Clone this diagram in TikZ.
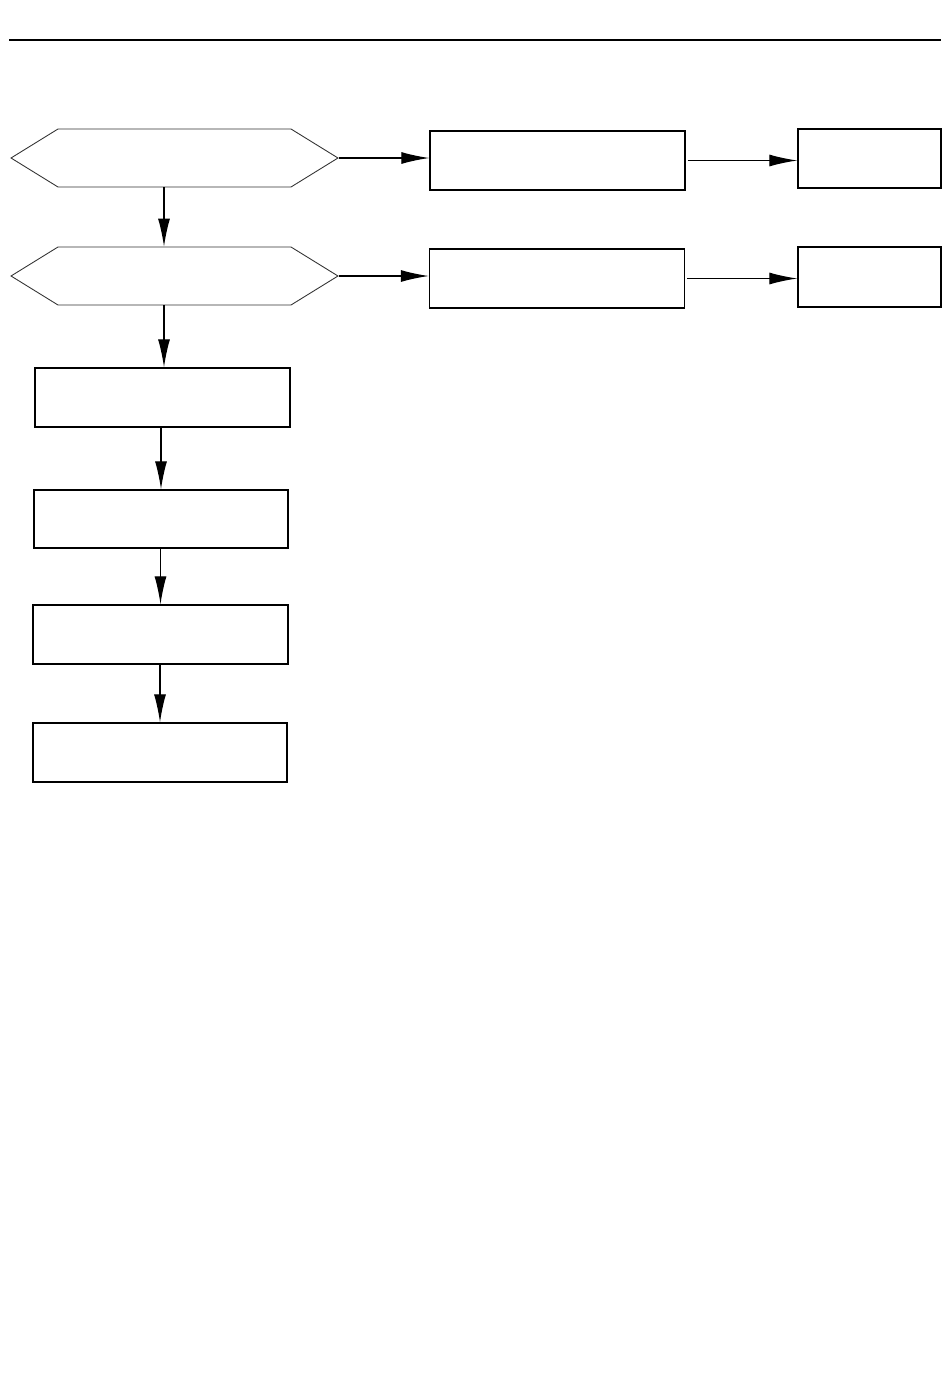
\documentclass[tikz,border=0pt]{standalone}
\usepackage{tikz}
\usetikzlibrary{positioning,arrows.meta,shapes.symbols}

\begin{document}
\begin{tikzpicture}[x=0.02cm,y=-0.02cm,
    action/.style={rectangle,draw,line width=0.8pt,minimum height=11.8mm,
		inner sep=0pt},
    decide/.style={signal,signal to=west and east,signal pointer angle=63.4,
		draw=black!80,line width=0.5pt,minimum width=65.4mm,minimum height=11.6mm,
		inner sep=0pt},
% Connector style
    flow/.style={line width=0.7pt,-{Latex[length=5.6mm,width=2.4mm]}}
    ]
   \useasboundingbox (0,0) rectangle (950,1379);
   \draw [line width=1.1pt] (9,40) -- (941,40);
%%% Draw check flow diagram
   \begin{scope}
      \node [decide] (chk1) at (174.5,158) {};
      \node [decide] (chk2) at (174.5,276) {};

      \node [action, minimum width=51mm] (res1) at (557.5,160.5) {};
      \node [action, minimum width=51mm] (res2) at (557,278.5) {};
      \node [action, minimum width=28.6mm] (fin1) at (869.5,158.5) {};
      \node [action, minimum width=28.6mm, minimum height=12mm] (fin2) at (869.5,277) {};

      \node [action, minimum width=51mm] (stp1) at (162.5,397.5) {};
      \node [action, minimum width=50.8mm, minimum height=11.6mm] (stp2) at (161,519) {};
      \node [action, minimum width=51mm] (stp3) at (160.5,634.5) {};
      \node [action, minimum width=50.8mm] (stp4) at (160,752.5) {};

      \draw [flow] (chk1.east) -- (chk1.east -| res1.west);
      \draw [flow] (chk2.east) -- (chk2.east -| res2.west);
      \draw [flow, shorten <=0.4mm] (res1.east) -- (res1.east -| fin1.west);
      \draw [flow, shorten <=0.4mm] (res2.east) -- (res2.east -| fin2.west);

      \draw [flow] ([xshift=0.3mm]chk1.south -| stp1) -- ([xshift=0.3mm]chk2.north -| stp1);
      \draw [flow] ([xshift=0.3mm]chk2.south -| stp1) -- ([xshift=0.3mm]stp1.north);
      \draw [flow] (stp1.south -| stp2) -- (stp2.north);
      \draw [flow] (stp2.south -| stp3) -- (stp3.north);
      \draw [flow] (stp3.south -| stp4) -- (stp4.north);
   \end{scope}
\end{tikzpicture}
\end{document}
